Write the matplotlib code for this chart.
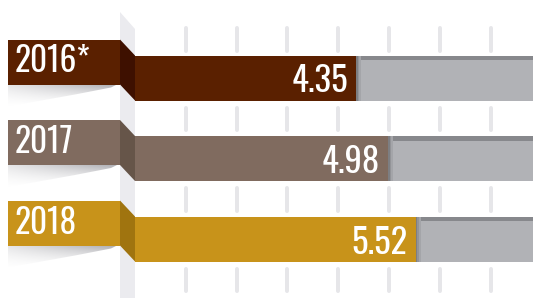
import numpy as np
import matplotlib
matplotlib.use('Agg')
import matplotlib.pyplot as plt
from matplotlib.patches import Polygon, Rectangle

# ---- data ----
years = ['2016*', '2017', '2018']
values = [4.35, 4.98, 5.52]
colors = ['#5a2000', '#806b5f', '#c8931a']
fold_colors = ['#3e1000', '#665549', '#a0740f']
grid_ticks = [1, 2, 3, 4, 5, 6, 7]
xmax = 7.83

FONT = ['Oswald', 'DejaVu Sans']

W, H = 533, 298
fig = plt.figure(figsize=(W / 100, H / 100), dpi=100)
ax = fig.add_axes([0, 0, 1, 1])
x0px = 135.0
ppu = (W - x0px) / xmax          # pixels per value unit
pitch = 80.5                      # pixels per category step
ax.set_xlim(-x0px / ppu, xmax)
ax.set_ylim((H - 78) / pitch, -78 / pitch)
ax.axis('off')

def px(d):
    return d / ppu

def py(d):
    return d / pitch

ypos = np.arange(len(years))
h = py(45)
off = py(16)
fold_w = px(15)
tab_left = px(-127)
tab_w = px(112)
ybot = (H - 78) / pitch

# axis band
ax.add_patch(Polygon([(-fold_w, py(12 - 78)), (0, py(29 - 78)), (0, ybot + 1), (-fold_w, ybot + 1)],
                     closed=True, color='#ebebef', lw=0, zorder=1))

# dashed grid marks in the gaps
lw_pt = 4 * 72 / 100
segs = [(-h / 2 - py(27), -h / 2 - py(5))]
for i in range(len(years) - 1):
    segs.append((ypos[i] + h / 2 + py(7), ypos[i + 1] - h / 2 - py(6)))
segs.append((ypos[-1] + h / 2 + py(7), ypos[-1] + h / 2 + py(29)))
for gx in grid_ticks:
    for a, b in segs:
        ax.plot([gx, gx], [a, b], color='#e6e6e9', lw=lw_pt, solid_capstyle='round', zorder=1)

# gray remainder bars
vals = np.array(values)
ax.barh(ypos, xmax - vals, left=vals, height=h, color='#b1b2b6', lw=0, zorder=2)
strip = py(4.5)
ax.barh(ypos - h / 2 + strip / 2, xmax - vals, left=vals, height=strip, color='#87888c', lw=0, zorder=3)
for k, (w_, c_) in enumerate([(5, '#a4a5a9'), (3, '#939498'), (1.5, '#7d7e82')]):
    ax.barh(ypos, px(w_), left=vals, height=h, color=c_, lw=0, zorder=3 + k * 0.1)

# colored bars
ax.barh(ypos, vals, height=h, color=colors, lw=0, zorder=4)

# tabs, folds, shadows, labels
grad_h, grad_w = 60, 200
u = np.linspace(0, 1, grad_w)[None, :]
v = np.linspace(0, 1, grad_h)[:, None]
alpha = 0.75 * (0.3 + 0.7 * u) * (1 - v) ** 1.6
rgba = np.zeros((grad_h, grad_w, 4))
rgba[..., 0] = 0.55
rgba[..., 1] = 0.55
rgba[..., 2] = 0.58
rgba[..., 3] = alpha

for i, y in enumerate(ypos):
    top = y - h / 2
    ttop = top - off
    tbot = ttop + h
    # shadow under tab
    sx0, sx1 = tab_left, -px(18)
    poly = Polygon([(sx0, tbot), (sx1, tbot), (sx1 - px(6), tbot + py(3)),
                    (-px(60), tbot + py(10)), (sx0, tbot + py(22))],
                   closed=True, facecolor='none', lw=0)
    ax.add_patch(poly)
    im = ax.imshow(rgba, extent=(sx0, sx1, tbot + py(24), tbot), origin='upper',
                   aspect='auto', zorder=2, interpolation='bilinear')
    im.set_clip_path(poly)
    # fold
    ax.add_patch(Polygon([(-fold_w, ttop), (0, top), (0, top + h), (-fold_w, tbot)],
                         closed=True, color=fold_colors[i], lw=0, zorder=5))
    # tab
    ax.add_patch(Rectangle((tab_left, ttop), tab_w, h, color=colors[i], lw=0, zorder=5))
    ax.text(tab_left + px(7), ttop + py(33), years[i], ha='left', va='baseline',
            color='white', fontsize=24, family=FONT, fontweight='light', zorder=6)
    ax.text(values[i] - px(8), top + py(37), f'{values[i]:.2f}', ha='right', va='baseline',
            color='white', fontsize=25, family=FONT, fontweight='light', zorder=6)

ax.set_xlim(-x0px / ppu, xmax)
ax.set_ylim((H - 78) / pitch, -78 / pitch)
fig.savefig('out.png', dpi=100)
